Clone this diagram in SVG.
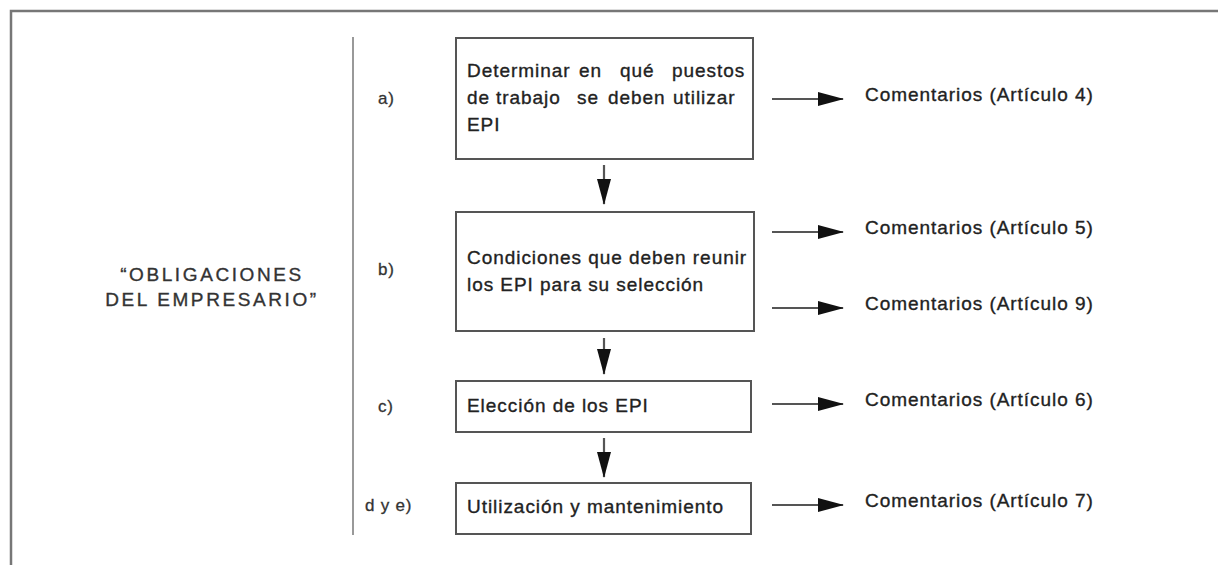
<svg xmlns="http://www.w3.org/2000/svg" width="1218" height="565" viewBox="0 0 1218 565">
<style>
  .t { font-family: "Liberation Sans", Arial, sans-serif; font-size: 19px; letter-spacing: 0.95px; fill: #222; stroke: #222; stroke-width: 0.35px; }
  .lbl { font-family: "Liberation Sans", Arial, sans-serif; font-size: 17px; letter-spacing: 0.8px; fill: #333; stroke: #333; stroke-width: 0.3px; }
  .title { font-family: "Liberation Sans", Arial, sans-serif; font-size: 19px; letter-spacing: 2.6px; fill: #333; stroke: #333; stroke-width: 0.35px; text-anchor: middle; }
  .box { fill: #fff; stroke: #555; stroke-width: 2; }
  .conn { stroke: #555; stroke-width: 2.2; fill: none; marker-end: url(#ah); }
</style>
<defs>
  <marker id="ah" viewBox="0 0 26 14" markerWidth="26" markerHeight="14" refX="25" refY="7" orient="auto" markerUnits="userSpaceOnUse">
    <path d="M0,0 L26,7 L0,14 z" fill="#111"/>
  </marker>
</defs>
<rect width="1218" height="565" fill="#fff"/>
<g id="frame">
  <rect x="11" y="11" width="1300" height="700" fill="none" stroke="#777" stroke-width="2.5"/>
  <line x1="353" y1="37" x2="353" y2="535" stroke="#777" stroke-width="1.5"/>
</g>
<g id="title">
  <text class="title" x="212" y="281">“OBLIGACIONES</text>
  <text class="title" x="212" y="306">DEL EMPRESARIO”</text>
</g>
<g id="labels">
  <text class="lbl" x="378" y="104">a)</text>
  <text class="lbl" x="378" y="275">b)</text>
  <text class="lbl" x="378" y="412">c)</text>
  <text class="lbl" x="365" y="511">d y e)</text>
</g>
<g id="node-a">
  <rect class="box" x="456" y="38" width="297" height="121"/>
  <text class="t" y="77"><tspan x="467">Determinar</tspan><tspan x="579">en</tspan><tspan x="620">qué</tspan><tspan x="672">puestos</tspan></text>
  <text class="t" y="104"><tspan x="467">de</tspan><tspan x="496">trabajo</tspan><tspan x="577">se</tspan><tspan x="608">deben</tspan><tspan x="673">utilizar</tspan></text>
  <text class="t" x="467" y="131">EPI</text>
</g>
<g id="node-b">
  <rect class="box" x="456" y="212" width="298" height="119"/>
  <text class="t" x="467" y="264">Condiciones que deben reunir</text>
  <text class="t" x="467" y="291">los EPI para su selección</text>
</g>
<g id="node-c">
  <rect class="box" x="456" y="381" width="295" height="51"/>
  <text class="t" x="467" y="412">Elección de los EPI</text>
</g>
<g id="node-d">
  <rect class="box" x="456" y="483" width="295" height="51"/>
  <text class="t" x="467" y="513">Utilización y mantenimiento</text>
</g>
<g id="comments">
  <text class="t" x="865" y="101">Comentarios (Artículo 4)</text>
  <text class="t" x="865" y="234">Comentarios (Artículo 5)</text>
  <text class="t" x="865" y="310">Comentarios (Artículo 9)</text>
  <text class="t" x="865" y="406">Comentarios (Artículo 6)</text>
  <text class="t" x="865" y="507">Comentarios (Artículo 7)</text>
</g>
<g id="connectors">
  <line class="conn" x1="604" y1="165" x2="604" y2="204"/>
  <line class="conn" x1="604" y1="338" x2="604" y2="374"/>
  <line class="conn" x1="604" y1="438" x2="604" y2="477"/>
  <line class="conn" x1="772" y1="99" x2="843" y2="99"/>
  <line class="conn" x1="772" y1="232" x2="843" y2="232"/>
  <line class="conn" x1="772" y1="308" x2="843" y2="308"/>
  <line class="conn" x1="772" y1="404" x2="843" y2="404"/>
  <line class="conn" x1="772" y1="505" x2="843" y2="505"/>
</g>
</svg>
